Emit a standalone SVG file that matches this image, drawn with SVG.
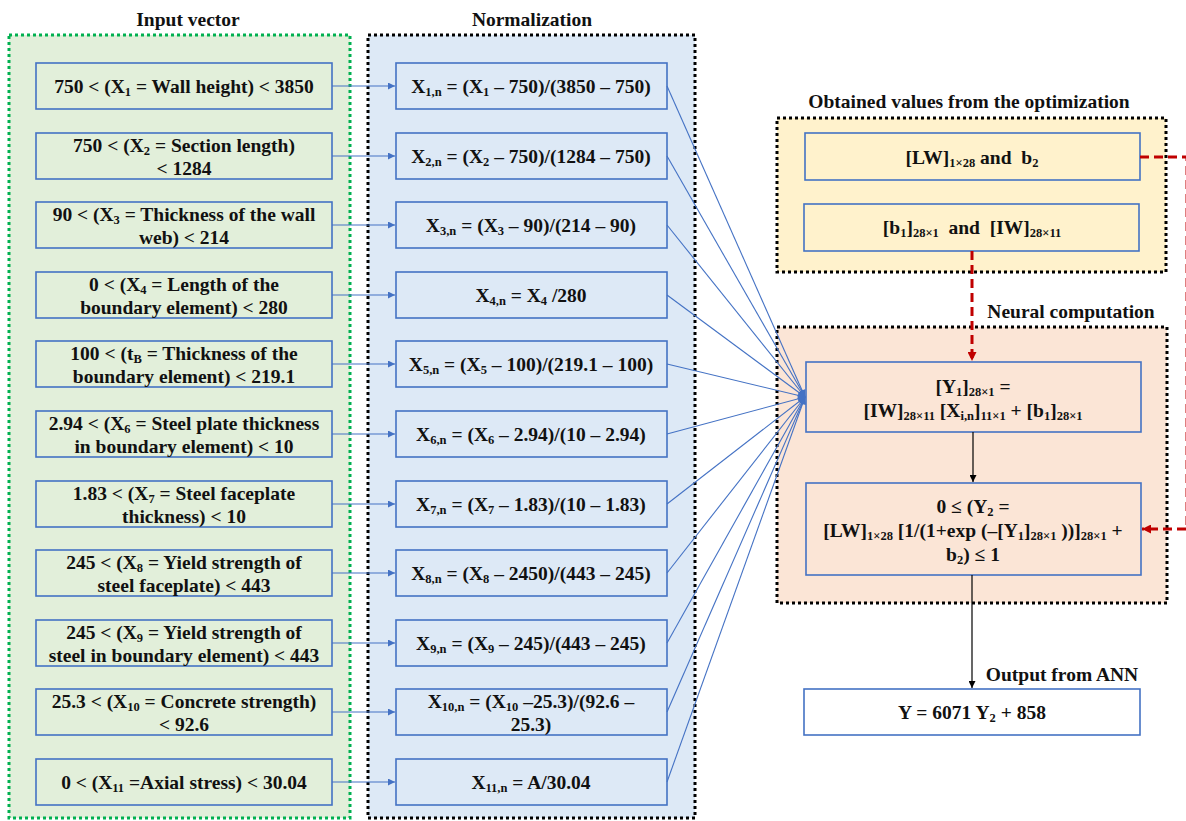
<svg xmlns="http://www.w3.org/2000/svg" width="1186" height="821" viewBox="0 0 1186 821">
<style>
text{font-family:"Liberation Serif","Times New Roman",serif;font-weight:bold;font-size:19.5px;fill:#111;text-anchor:middle}
.t{font-size:19.5px}
.s{font-size:12.5px;baseline-shift:-3px}
.box{stroke:#4472c4;stroke-width:1.6}
.g{fill:#e2efda}
.b{fill:#dde9f6}
.y{fill:#fff2cc}
.o{fill:#fbe5d6}
.w{fill:#fff}
.blue{stroke:#4472c4;stroke-width:1.1;fill:none}
.red{stroke:#c00000;stroke-width:3;stroke-dasharray:9 5;fill:none}
.blk{stroke:#000;stroke-width:1.2;fill:none}
</style>
<defs>
<marker id="ab" viewBox="0 0 10 10" refX="10" refY="5" markerWidth="8" markerHeight="7" markerUnits="userSpaceOnUse" orient="auto"><path d="M0,0 L10,5 L0,10 Z" fill="#4472c4"/></marker>
<marker id="ar" viewBox="0 0 10 10" refX="10" refY="5" markerWidth="10" markerHeight="9" markerUnits="userSpaceOnUse" orient="auto"><path d="M0,0 L10,5 L0,10 Z" fill="#c00000"/></marker>
<marker id="ak" viewBox="0 0 10 10" refX="10" refY="5" markerWidth="8" markerHeight="7" markerUnits="userSpaceOnUse" orient="auto"><path d="M0,0 L10,5 L0,10 Z" fill="#000"/></marker>
</defs>
<rect width="1186" height="821" fill="#fff"/>

<g id="input-vector">
<rect x="9" y="35" width="341" height="783" class="g" stroke="#00b050" stroke-width="3" stroke-dasharray="3 3"/>
<text class="t" x="188" y="26">Input vector</text>
</g>
<g id="normalization">
<rect x="368" y="35" width="327" height="783" class="b" stroke="#000" stroke-width="3" stroke-dasharray="3 3"/>
<text class="t" x="532" y="26">Normalization</text>
</g>
<g id="optimization">
<rect x="777" y="118" width="389" height="154" class="y" stroke="#000" stroke-width="3" stroke-dasharray="3 3"/>
<text class="t" x="969" y="108">Obtained values from the optimization</text>
</g>
<g id="neural-computation">
<rect x="777" y="327" width="390" height="276" class="o" stroke="#000" stroke-width="3" stroke-dasharray="3 3"/>
<text class="t" x="1071" y="318">Neural computation</text>
</g>

<g id="in1"><rect x="36" y="63" width="296" height="46" class="box g"/><text x="184" y="93">750 &lt; (X<tspan class="s">1</tspan> = Wall height) &lt; 3850</text></g>
<g id="in2"><rect x="36" y="133" width="296" height="46" class="box g"/><text x="184" y="152">750 &lt; (X<tspan class="s">2</tspan> = Section length)</text><text x="184" y="175">&lt; 1284</text></g>
<g id="in3"><rect x="36" y="202" width="296" height="46" class="box g"/><text x="184" y="221">90 &lt; (X<tspan class="s">3</tspan> = Thickness of the wall</text><text x="184" y="244">web) &lt; 214</text></g>
<g id="in4"><rect x="36" y="272" width="296" height="46" class="box g"/><text x="184" y="291">0 &lt; (X<tspan class="s">4</tspan> = Length of the</text><text x="184" y="314">boundary element) &lt; 280</text></g>
<g id="in5"><rect x="36" y="341" width="296" height="46" class="box g"/><text x="184" y="360">100 &lt; (t<tspan class="s">B</tspan> = Thickness of the</text><text x="184" y="383">boundary element) &lt; 219.1</text></g>
<g id="in6"><rect x="36" y="411" width="296" height="46" class="box g"/><text x="184" y="430">2.94 &lt; (X<tspan class="s">6</tspan> = Steel plate thickness</text><text x="184" y="453">in boundary element) &lt; 10</text></g>
<g id="in7"><rect x="36" y="481" width="296" height="46" class="box g"/><text x="184" y="500">1.83 &lt; (X<tspan class="s">7</tspan> = Steel faceplate</text><text x="184" y="523">thickness) &lt; 10</text></g>
<g id="in8"><rect x="36" y="550" width="296" height="46" class="box g"/><text x="184" y="569">245 &lt; (X<tspan class="s">8</tspan> = Yield strength of</text><text x="184" y="592">steel faceplate) &lt; 443</text></g>
<g id="in9"><rect x="36" y="620" width="296" height="46" class="box g"/><text x="184" y="639">245 &lt; (X<tspan class="s">9</tspan> = Yield strength of</text><text x="184" y="662">steel in boundary element) &lt; 443</text></g>
<g id="in10"><rect x="36" y="689" width="296" height="46" class="box g"/><text x="184" y="708">25.3 &lt; (X<tspan class="s">10</tspan> = Concrete strength)</text><text x="184" y="731">&lt; 92.6</text></g>
<g id="in11"><rect x="36" y="759" width="296" height="46" class="box g"/><text x="184" y="789">0 &lt; (X<tspan class="s">11</tspan> =Axial stress) &lt; 30.04</text></g>

<g id="n1"><rect x="396" y="63" width="271" height="46" class="box b"/><text x="531" y="93">X<tspan class="s">1,n</tspan> = (X<tspan class="s">1</tspan> – 750)/(3850 – 750)</text></g>
<g id="n2"><rect x="396" y="133" width="271" height="46" class="box b"/><text x="531" y="163">X<tspan class="s">2,n</tspan> = (X<tspan class="s">2</tspan> – 750)/(1284 – 750)</text></g>
<g id="n3"><rect x="396" y="202" width="271" height="46" class="box b"/><text x="531" y="232">X<tspan class="s">3,n</tspan> = (X<tspan class="s">3</tspan> – 90)/(214 – 90)</text></g>
<g id="n4"><rect x="396" y="272" width="271" height="46" class="box b"/><text x="531" y="302">X<tspan class="s">4,n</tspan> = X<tspan class="s">4</tspan> /280</text></g>
<g id="n5"><rect x="396" y="341" width="271" height="46" class="box b"/><text x="531" y="371">X<tspan class="s">5,n</tspan> = (X<tspan class="s">5</tspan> – 100)/(219.1 – 100)</text></g>
<g id="n6"><rect x="396" y="411" width="271" height="46" class="box b"/><text x="531" y="441">X<tspan class="s">6,n</tspan> = (X<tspan class="s">6</tspan> – 2.94)/(10 – 2.94)</text></g>
<g id="n7"><rect x="396" y="481" width="271" height="46" class="box b"/><text x="531" y="511">X<tspan class="s">7,n</tspan> = (X<tspan class="s">7</tspan> – 1.83)/(10 – 1.83)</text></g>
<g id="n8"><rect x="396" y="550" width="271" height="46" class="box b"/><text x="531" y="580">X<tspan class="s">8,n</tspan> = (X<tspan class="s">8</tspan> – 2450)/(443 – 245)</text></g>
<g id="n9"><rect x="396" y="620" width="271" height="46" class="box b"/><text x="531" y="650">X<tspan class="s">9,n</tspan> = (X<tspan class="s">9</tspan> – 245)/(443 – 245)</text></g>
<g id="n10"><rect x="396" y="689" width="271" height="46" class="box b"/><text x="531" y="708">X<tspan class="s">10,n</tspan> = (X<tspan class="s">10</tspan> –25.3)/(92.6 –</text><text x="531" y="731">25.3)</text></g>
<g id="n11"><rect x="396" y="759" width="271" height="46" class="box b"/><text x="531" y="789">X<tspan class="s">11,n</tspan> = A/30.04</text></g>

<g id="lw"><rect x="805" y="133" width="335" height="47" class="box y"/><text x="972" y="164" xml:space="preserve">[LW]<tspan class="s">1×28</tspan> and  b<tspan class="s">2</tspan></text></g>
<g id="b1"><rect x="804" y="204" width="335" height="47" class="box y"/><text x="972" y="234" xml:space="preserve">[b<tspan class="s">1</tspan>]<tspan class="s">28×1</tspan>  and  [IW]<tspan class="s">28×11</tspan></text></g>
<g id="y1"><rect x="806" y="362" width="335" height="70" class="box o"/><text x="973" y="393">[Y<tspan class="s">1</tspan>]<tspan class="s">28×1</tspan> =</text><text x="973" y="417">[IW]<tspan class="s">28×11</tspan> [X<tspan class="s">i,n</tspan>]<tspan class="s">11×1</tspan> + [b<tspan class="s">1</tspan>]<tspan class="s">28×1</tspan></text></g>
<g id="y2"><rect x="806" y="483" width="335" height="92" class="box o"/><text x="973" y="513">0 ≤ (Y<tspan class="s">2</tspan> =</text><text x="973" y="537">[LW]<tspan class="s">1×28</tspan> [1/(1+exp (–[Y<tspan class="s">1</tspan>]<tspan class="s">28×1</tspan> ))]<tspan class="s">28×1</tspan> +</text><text x="973" y="561">b<tspan class="s">2</tspan>) ≤ 1</text></g>
<g id="output"><text class="t" x="1062" y="681">Output from ANN</text><rect x="804" y="689" width="336" height="46" class="box w"/><text x="972" y="719">Y = 6071 Y<tspan class="s">2</tspan> + 858</text></g>

<g id="connectors">
<g class="blue" marker-end="url(#ab)">
<path d="M332,86H395"/><path d="M332,156H395"/><path d="M332,225H395"/><path d="M332,295H395"/><path d="M332,364H395"/><path d="M332,434H395"/><path d="M332,504H395"/><path d="M332,573H395"/><path d="M332,643H395"/><path d="M332,712H395"/><path d="M332,782H395"/>
</g>
<g class="blue" marker-end="url(#ab)">
<path d="M667,86L805,397"/><path d="M667,156L805,397"/><path d="M667,225L805,397"/><path d="M667,295L805,397"/><path d="M667,364L805,397"/><path d="M667,434L805,397"/><path d="M667,504L805,397"/><path d="M667,573L805,397"/><path d="M667,643L805,397"/><path d="M667,712L805,397"/><path d="M667,782L805,397"/>
</g>
<ellipse cx="802.5" cy="397" rx="3" ry="7" fill="#4472c4"/>
<path class="red" marker-end="url(#ar)" d="M972,251V361"/>
<path class="red" marker-end="url(#ar)" d="M1140,157H1187V529H1142"/>
<path class="blk" marker-end="url(#ak)" d="M973,432V482"/>
<path class="blk" marker-end="url(#ak)" d="M972,575V688"/>
</g>
</svg>
